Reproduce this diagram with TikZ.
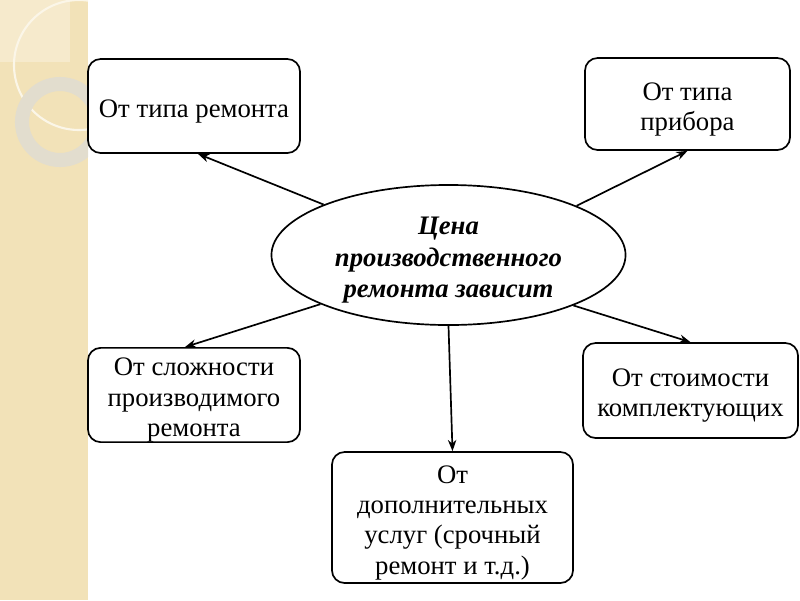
\documentclass[tikz,border=0pt]{standalone}
\usepackage{fontspec}
\setmainfont{Liberation Serif}
\usetikzlibrary{arrows.meta,shapes.geometric,calc}
\definecolor{stripfill}{RGB}{242,226,184}
\definecolor{striplight}{RGB}{246,234,204}
\definecolor{ringthin}{RGB}{251,246,232}
\definecolor{ringthick}{RGB}{226,221,206}
\newcommand{\boxlift}{\rule{0pt}{20pt}}
\begin{document}
\begin{tikzpicture}[x=0.025cm,y=-0.025cm,
  box/.style={draw,line width=1.2pt,rounded corners=9pt,align=center,inner ysep=0pt,
    font=\rmfamily\fontsize{19}{21.5}\selectfont},
  centre/.style={draw,line width=1.2pt,ellipse,inner sep=0pt,align=center,
    minimum width=8.85cm,minimum height=3.5cm,
    font=\rmfamily\fontsize{19}{22.5}\selectfont\bfseries\itshape},
  link/.style={-{Stealth[length=8pt,width=6pt]},line width=1.2pt}]

\useasboundingbox (0,0) rectangle (800,600);

% left strip
\fill[stripfill] (0,0) rectangle (88,600);
\begin{scope}
\clip (0,0) rectangle (88,600);
\fill[striplight] (0,0) rectangle (70,62);
\draw[ringthin,line width=1.5pt] (79,65) circle (65);
\draw[ringthick,line width=10pt] (60,122) circle (38);
\end{scope}

\node[centre] (ell) at (448.5,255) {\boxlift Цена\\производственного\\ремонта зависит};

\node[box,minimum width=5.3cm,minimum height=2.35cm] (type) at (194,106) {\boxlift От типа ремонта};
\node[box,minimum width=5.125cm,minimum height=2.3cm] (device) at (687.5,104) {\boxlift От типа\\прибора};
\node[box,minimum width=5.3cm,minimum height=2.35cm] (complex) at (194,395) {\boxlift От сложности\\производимого\\ремонта};
\node[box,minimum width=5.375cm,minimum height=2.375cm] (parts) at (690.5,390.5) {\boxlift От стоимости\\комплектующих};
\node[box,minimum width=6.025cm,minimum height=3.275cm] (extra) at (452.5,517.5) {\boxlift От\\дополнительных\\услуг (срочный\\ремонт и т.д.)};

\draw[link] (ell.158.7) -- ($(type.south)+(4,0)$);
\draw[link] (ell.21.4) -- (device.south);
\draw[link] (ell.201.6) -- ($(complex.north)+(-9,0)$);
\draw[link] (ell.338.4) -- (parts.north);
\draw[link] (ell.south) -- (extra.north);

\end{tikzpicture}
\end{document}
